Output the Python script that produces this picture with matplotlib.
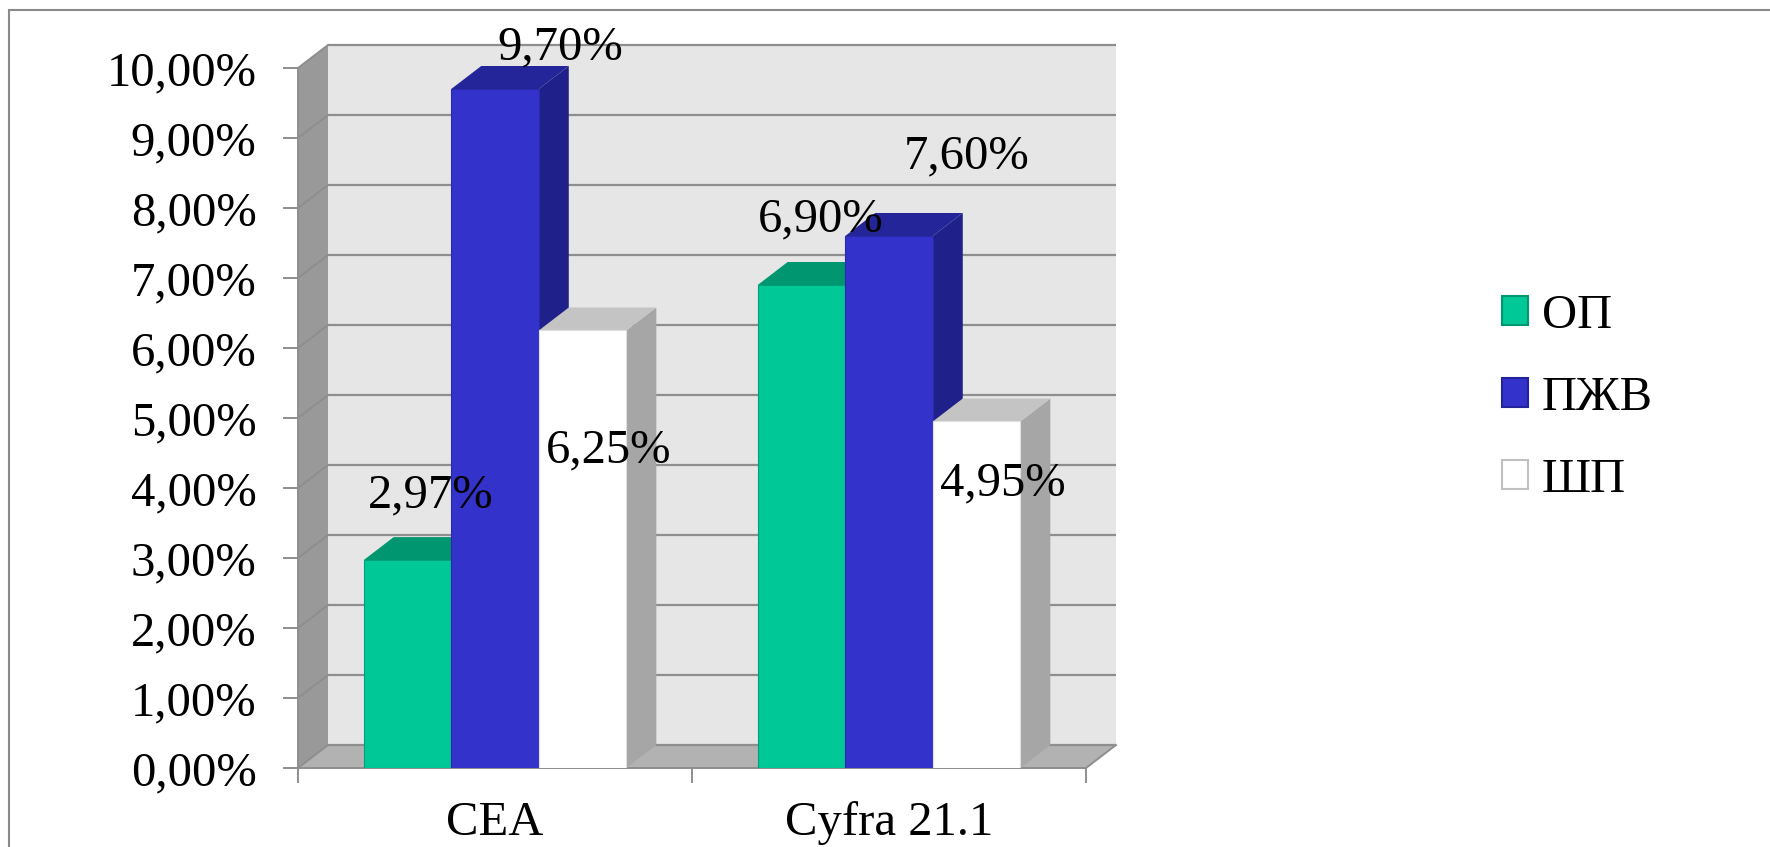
import matplotlib
matplotlib.use("Agg")
import matplotlib.pyplot as plt
from matplotlib.patches import Polygon, Rectangle, Patch

# ---------------- data ----------------
categories = ["CEA", "Cyfra 21.1"]
series_names = ["ОП", "ПЖВ", "ШП"]
op_values = [2.97, 6.90]
pzhv_values = [9.70, 7.60]
shp_values = [6.25, 4.95]
value_labels = [["2,97%", "6,90%"], ["9,70%", "7,60%"], ["6,25%", "4,95%"]]
y_ticks = [0, 1, 2, 3, 4, 5, 6, 7, 8, 9, 10]
y_tick_labels = ["0,00%", "1,00%", "2,00%", "3,00%", "4,00%", "5,00%",
                 "6,00%", "7,00%", "8,00%", "9,00%", "10,00%"]

# ---------------- styles ----------------
plt.rcParams['font.family'] = ['Liberation Serif', 'DejaVu Serif']
front_colors = ["#00C896", "#3333CC", "#FFFFFF"]
top_colors = ["#009670", "#25259A", "#C4C4C4"]
side_colors = ["#00A47C", "#20208A", "#A6A6A6"]
edge_colors = ["#00A07A", "#2A2AA8", "#E0E0E0"]
legend_edges = ["#009670", "#22229A", "#C0C0C0"]
label_offsets = [[(0.06, 0.93), (0.05, 0.94)],
                 [(0.165, 0.60), (0.198, 1.14)],
                 [(0.067, -1.71), (0.067, -0.89)]]
grid_color = "#8E8E8E"
FS = 35

W_PX, H_PX = 1770, 847
fig = plt.figure(figsize=(W_PX / 100, H_PX / 100), dpi=100)
fig.patch.set_facecolor("white")
ax = fig.add_axes([298 / W_PX, (H_PX - 768) / H_PX, 788 / W_PX, 700 / H_PX])
ax.set_xlim(0, len(categories))
ax.set_ylim(0, 10)
ax.patch.set_visible(False)

DX = 30 / 394.0   # depth offset in data units (x)
DY = 23 / 70.0    # depth offset in data units (y)
ncat = len(categories)
ymax = y_ticks[-1]

# walls
ax.add_patch(Rectangle((DX, DY), ncat, ymax, facecolor="#E6E6E6",
                       edgecolor="none", zorder=0.5, clip_on=False))
ax.add_patch(Polygon([(0, 0), (DX, DY), (DX, ymax + DY), (0, ymax)],
                     closed=True, facecolor="#999999", edgecolor="none",
                     zorder=0.6, clip_on=False))
ax.add_patch(Polygon([(0, 0), (ncat, 0), (ncat + DX, DY), (DX, DY)],
                     closed=True, facecolor="#B2B2B2", edgecolor="none",
                     zorder=0.6, clip_on=False))
# gridlines on walls
for t in y_ticks:
    ax.plot([DX, ncat + DX], [t + DY, t + DY], color=grid_color, lw=1.6,
            zorder=1, clip_on=False, solid_capstyle="butt")
    ax.plot([0, DX], [t, t + DY], color=grid_color, lw=1.4, zorder=1,
            clip_on=False)
ax.plot([ncat, ncat + DX], [0, DY], color=grid_color, lw=1.4, zorder=1,
        clip_on=False)

# bars
all_values = [op_values, pzhv_values, shp_values]
w = 1.0 / 4.5
xpos = list(range(ncat))
for j, vals in enumerate(all_values):
    lefts = [i + 0.5 - 1.5 * w + j * w for i in xpos]
    z = 3 + j * 0.1
    for x0, v in zip(lefts, vals):
        x1 = x0 + w
        ax.add_patch(Polygon([(x1, 0), (x1 + DX, DY), (x1 + DX, v + DY), (x1, v)],
                             closed=True, facecolor=side_colors[j],
                             edgecolor="none", zorder=z, clip_on=False))
        ax.add_patch(Polygon([(x0, v), (x1, v), (x1 + DX, v + DY), (x0 + DX, v + DY)],
                             closed=True, facecolor=top_colors[j],
                             edgecolor="none", zorder=z + 0.01, clip_on=False))
    ax.bar(lefts, vals, width=w, align="edge", color=front_colors[j],
           edgecolor=edge_colors[j], linewidth=0.8, zorder=z + 0.02,
           label=series_names[j])
    for k, (x0, v) in enumerate(zip(lefts, vals)):
        ox, oy = label_offsets[j][k]
        ax.text(x0 + w / 2 + ox, v + oy, value_labels[j][k], ha="center",
                va="center", fontsize=FS, color="black", zorder=10,
                clip_on=False)

# axes, ticks
for s in ["top", "right"]:
    ax.spines[s].set_visible(False)
for s in ["left", "bottom"]:
    ax.spines[s].set_color(grid_color)
    ax.spines[s].set_linewidth(1.4)
    ax.spines[s].set_zorder(2)
ax.set_yticks(y_ticks)
ax.set_yticklabels(y_tick_labels)
ax.tick_params(axis="y", length=10.8, width=1.4, color=grid_color, pad=19,
               labelsize=FS)
ax.set_xticks([i for i in range(ncat + 1)])
ax.set_xticklabels([])
ax.set_xticks([i + 0.5 for i in xpos], minor=True)
ax.set_xticklabels(categories, minor=True)
ax.tick_params(axis="x", which="major", length=10.8, width=1.4, color=grid_color)
ax.tick_params(axis="x", which="minor", length=0, pad=24, labelsize=FS)

# legend
handles = [Patch(facecolor=front_colors[j], edgecolor=legend_edges[j], linewidth=1.5)
           for j in range(3)]
fig.legend(handles, series_names, loc="center left",
           bbox_to_anchor=(1502 / W_PX, 1 - 398 / H_PX), frameon=False,
           fontsize=35, handlelength=0.54, handleheight=0.54, handletextpad=0.28,
           labelspacing=0.78, borderaxespad=0, borderpad=0)

# outer frame
fig.add_artist(Rectangle((9 / W_PX, -0.1), 1.2, 1 - 10 / H_PX + 0.1,
                         transform=fig.transFigure, fill=False,
                         edgecolor="#8A8A8A", linewidth=1.5))

fig.savefig("out.png", dpi=100)
